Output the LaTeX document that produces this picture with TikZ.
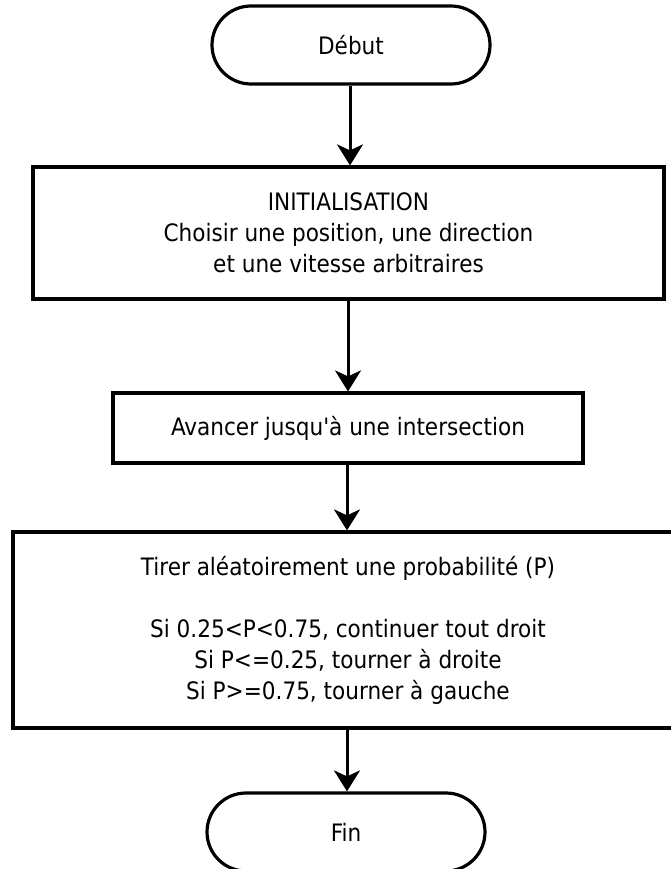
\documentclass[tikz,border=0pt]{standalone}
\usepackage{fontspec}
\setmainfont{DejaVu Sans Condensed}[Ligatures=TeXOff]
\usetikzlibrary{arrows.meta,shapes.misc}
\begin{document}
\begin{tikzpicture}[x=1pt,y=-1pt,
  every node/.style={font=\fontsize{24}{31}\selectfont, align=center, inner sep=0pt},
  terminal/.style={draw, line width=3.2pt, rounded rectangle, minimum width=278pt, minimum height=78pt},
  stepbox/.style={draw, line width=3.2pt, rectangle},
  flow/.style={line width=3pt, -{Stealth[length=21pt,width=26pt,inset=6pt]}}]
\useasboundingbox (0,0) rectangle (670,869);
% start / end
\node[terminal] (debut) at (351,45) {Début};
\node[terminal] (fin) at (346,832) {Fin};
% processing steps
\node[stepbox, minimum width=631pt, minimum height=132pt] (init) at (348.5,233)
  {\fontsize{24}{32}\selectfont INITIALISATION\\Choisir une position, une direction\\ et une vitesse arbitraires};
\node[stepbox, minimum width=470pt, minimum height=70pt] (avance) at (348,428)
  {Avancer jusqu'à une intersection};
\node[stepbox, minimum width=670pt, minimum height=196pt] (tirage) at (348,630)
  {Tirer aléatoirement une probabilité (P)\\[31pt]
   Si 0.25<P<0.75, continuer tout droit\\
   Si P<=0.25, tourner à droite\\
   Si P>=0.75, tourner à gauche};
% connectors
\draw[flow] (debut.south -| 350,0) -- (init.north -| 350,0);
\draw[flow] (init.south -| 348,0) -- (avance.north -| 348,0);
\draw[flow] (avance.south -| 347,0) -- (tirage.north -| 347,0);
\draw[flow] (tirage.south -| 347,0) -- (fin.north -| 347,0);
\end{tikzpicture}
\end{document}
